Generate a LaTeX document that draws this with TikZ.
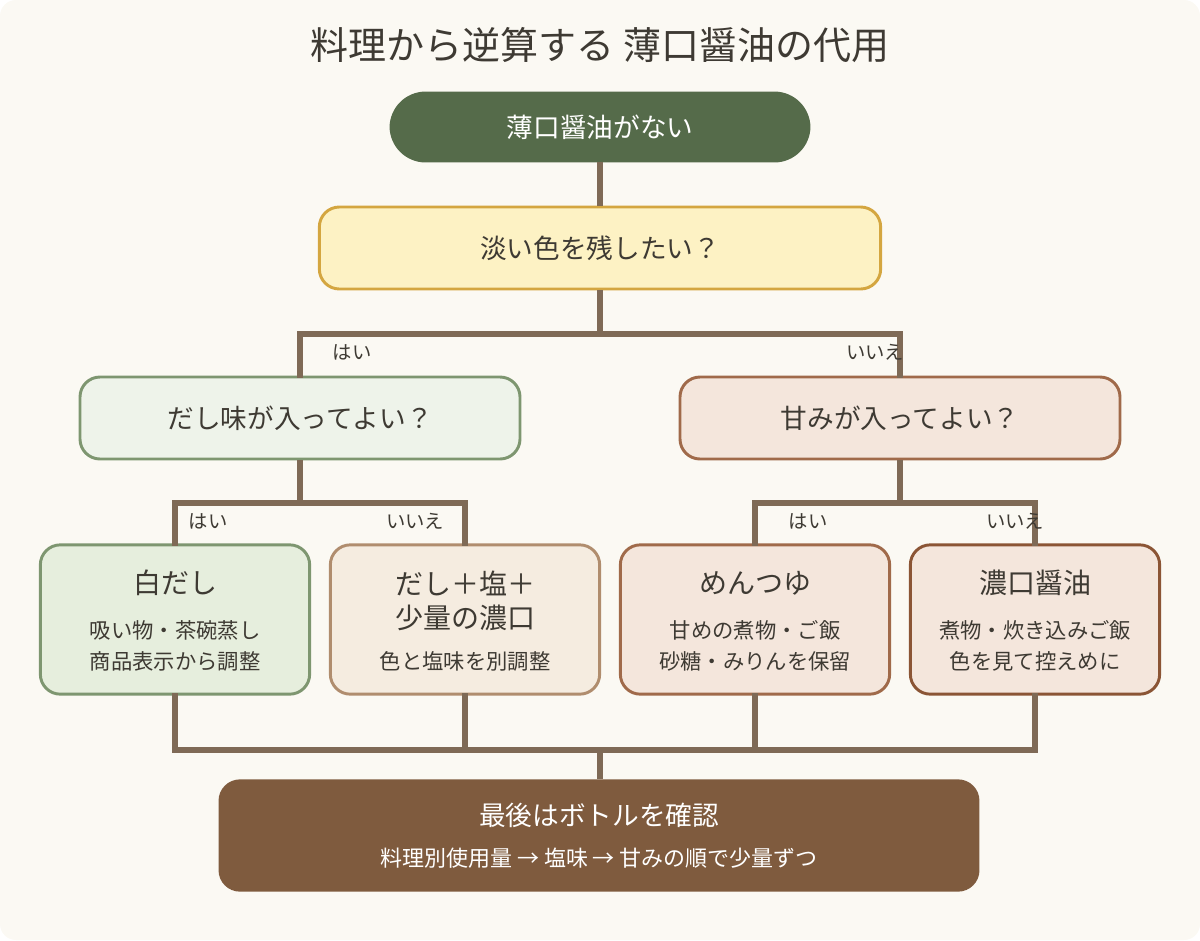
\documentclass[tikz,border=0pt]{standalone}
\usepackage{fontspec}
\setmainfont{Noto Sans CJK JP}
\begin{document}
\begin{tikzpicture}[x=0.75pt,y=-0.75pt,
  box/.style={rounded corners=15pt,line width=2.2pt,align=center,inner sep=0pt},
  leaf/.style={box,minimum height=112pt,text=textC},
  qt/.style={font=\fontsize{20}{24}\selectfont},
  lt/.style={text=textC,font=\fontsize{21}{26}\selectfont},
  st/.style={text=textC,font=\fontsize{16}{20}\selectfont},
  con/.style={draw=lineC,line width=3.8pt},
  lab/.style={font=\fontsize{14.5}{17}\selectfont,text=textC}]
\definecolor{bg}{HTML}{FBF9F3}
\definecolor{lineC}{HTML}{7F6A56}
\definecolor{textC}{HTML}{3E3A33}
\definecolor{dg}{HTML}{556B4A}
\definecolor{yf}{HTML}{FDF2C4}\definecolor{yb}{HTML}{D4A640}
\definecolor{gf}{HTML}{EEF3EA}\definecolor{gb}{HTML}{7E9670}
\definecolor{gf2}{HTML}{E6EEDD}
\definecolor{rf}{HTML}{F4E6DC}\definecolor{rb}{HTML}{A06A4A}
\definecolor{tf}{HTML}{F5ECE0}\definecolor{tb}{HTML}{B08D6E}
\definecolor{db}{HTML}{8B5535}
\definecolor{bb}{HTML}{7F5B3E}
\useasboundingbox (0,0) rectangle (1200,940);
\fill[bg,rounded corners=12pt] (0,0) rectangle (1200,940);
\node[text=textC,font=\fontsize{28.5}{32}\selectfont] (title) at (600,45) {料理から逆算する 薄口醤油の代用};
\coordinate (h1) at (600,334);
\coordinate (h2) at (300,503);
\coordinate (h3) at (900,503);
\coordinate (h4) at (600,750);
\node[box,qt,fill=dg,draw=dg,minimum width=313.5pt,minimum height=51pt,rounded corners=26pt,text=white] (top) at (600,127) {薄口醤油がない};
\node[box,qt,fill=yf,draw=yb,minimum width=421pt,minimum height=61.5pt,text=textC] (q1) at (600,248) {淡い色を残したい？};
\node[box,qt,fill=gf,draw=gb,minimum width=330pt,minimum height=61.5pt,text=textC] (lq) at (300,418) {だし味が入ってよい？};
\node[box,qt,fill=rf,draw=rb,minimum width=330pt,minimum height=61.5pt,text=textC] (rq) at (900,418) {甘みが入ってよい？};
\node[leaf,fill=gf2,draw=gb,minimum width=202pt] (l1) at (175,619.5) {};
\node[leaf,fill=tf,draw=tb,minimum width=202pt] (l2) at (465,619.5) {};
\node[leaf,fill=rf,draw=rb,minimum width=202pt] (l3) at (755,619.5) {};
\node[leaf,fill=rf,draw=db,minimum width=187pt] (l4) at (1035,619.5) {};
\node[lt] (t1) at (175,583) {白だし};
\node[st] (s1a) at (175,630) {吸い物・茶碗蒸し};
\node[st] (s1b) at (175,661) {商品表示から調整};
\node[lt] (t2a) at (465,583) {だし＋塩＋};
\node[lt] (t2b) at (465,618) {少量の濃口};
\node[st] (s2) at (465,661) {色と塩味を別調整};
\node[lt] (t3) at (755,583) {めんつゆ};
\node[st] (s3a) at (755,630) {甘めの煮物・ご飯};
\node[st] (s3b) at (755,661) {砂糖・みりんを保留};
\node[lt] (t4) at (1035,583) {濃口醤油};
\node[st] (s4a) at (1035,630) {煮物・炊き込みご飯};
\node[st] (s4b) at (1035,661) {色を見て控えめに};
\node[box,fill=bb,draw=bb,minimum width=568.5pt,minimum height=82pt] (bot) at (599,835.5) {};
\node[text=white,font=\fontsize{20}{24}\selectfont] (bt) at (599,815) {最後はボトルを確認};
\node[text=white,font=\fontsize{16.5}{20}\selectfont] (bs) at (599,858) {料理別使用量 → 塩味 → 甘みの順で少量ずつ};
\draw[con] (top.south) -- (q1.north);
\draw[con] (q1.south) -- (h1);
\draw[con,line cap=rect] (h1) -| (lq.north);
\draw[con,line cap=rect] (h1) -| (rq.north);
\draw[con] (lq.south) -- (h2);
\draw[con,line cap=rect] (h2) -| (l1.north);
\draw[con,line cap=rect] (h2) -| (l2.north);
\draw[con] (rq.south) -- (h3);
\draw[con,line cap=rect] (h3) -| (l3.north);
\draw[con,line cap=rect] (h3) -| (l4.north);
\foreach \n in {l1,l2,l3,l4}{\draw[con,line cap=rect] (\n.south) |- (h4);}
\draw[con] (h4) -- (bot.north -| h4);
\node[lab] (a1) at (352,352) {はい};
\node[lab] (a2) at (875,352) {いいえ};
\node[lab] (a3) at (208,521) {はい};
\node[lab] (a4) at (415,521) {いいえ};
\node[lab] (a5) at (808,521) {はい};
\node[lab] (a6) at (1015,521) {いいえ};
\end{tikzpicture}
\end{document}
